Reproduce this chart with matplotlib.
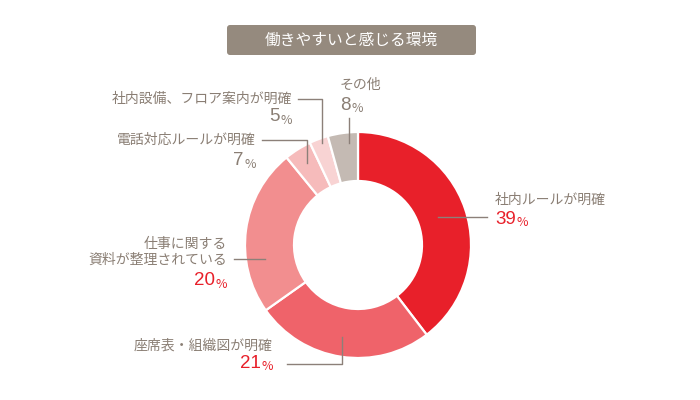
import matplotlib.pyplot as plt
from matplotlib.patches import FancyBboxPatch

plt.rcParams['font.family'] = ['Noto Sans CJK JP', 'DejaVu Sans']

# data (wedge sizes as drawn, printed percentages as labelled)
title = '働きやすいと感じる環境'
categories = ['社内ルールが明確', '座席表・組織図が明確', '仕事に関する\n資料が整理されている',
              '電話対応ルールが明確', '社内設備、フロア案内が明確', 'その他']
shares = [39.6, 25.6, 23.9, 3.9, 2.7, 4.3]
pct_labels = ['39', '21', '20', '7', '5', '8']
colors = ['#e8202a', '#ef636a', '#f28e8f', '#f6bbbb', '#f8d3d3', '#c4bab3']
pct_colors = ['#e8202a', '#e8202a', '#e8202a', '#8a7e74', '#8a7e74', '#8a7e74']

TXT = '#8a7e74'
LINE = '#8c8079'
H = 400
NUMFONT = ['Liberation Sans', 'DejaVu Sans']

fig = plt.figure(figsize=(7, 4), dpi=100)
ax = fig.add_axes([0, 0, 1, 1])

ax.pie(shares, colors=colors, radius=113, center=(358, H - 245), startangle=90,
       counterclock=False, wedgeprops=dict(width=49, edgecolor='white', linewidth=1.6))

# title box
ax.add_patch(FancyBboxPatch((227, H - 55), 249, 30, boxstyle='round,pad=0,rounding_size=3',
                            fc='#958a7e', ec='none'))
ax.text(351, H - 40, title, color='white', fontsize=11.3, ha='center', va='center')

# label layout (pixel coords): text x, align, name y, pct y, leader path
layout = [
    (495, 'left', 200, 217, [(438, 217), (487, 217)]),
    (273, 'right', 346, 364, [(342, 337), (342, 364), (287, 364)]),
    (227, 'right', 252, 281, [(265, 259), (234, 259)]),
    (256, 'right', 140, 161, [(307, 163), (307, 140), (262, 140)]),
    (292, 'right', 99, 117, [(322, 143), (322, 99), (298, 99)]),
    (340, 'left', 85, 103, [(349, 143), (349, 118)]),
]

for name, pct, pc, (x, ha, ny, py, path) in zip(categories, pct_labels, pct_colors, layout):
    ax.text(x, H - ny, name, color=TXT, fontsize=10, ha=ha, va='center',
            linespacing=1.15, multialignment=ha)
    if ha == 'right':
        sign = ax.text(x, H - py - 6.5, '%', color=pc, fontsize=9, ha='right', va='baseline')
        ax.annotate(pct, xy=(0, 0), xycoords=sign, color=pc, fontsize=13.5, family=NUMFONT,
                    ha='right', va='bottom', xytext=(-0.5, 1), textcoords='offset points')
    else:
        num = ax.text(x, H - py - 6.5, pct, color=pc, fontsize=13.5, family=NUMFONT,
                      ha='left', va='baseline')
        ax.annotate('%', xy=(1, 0), xycoords=num, color=pc, fontsize=9,
                    ha='left', va='bottom', xytext=(0.5, -1), textcoords='offset points')
    xs = [p[0] for p in path]
    ys = [H - p[1] for p in path]
    ax.plot(xs, ys, color=LINE, lw=1)

ax.set_xlim(0, 700)
ax.set_ylim(0, H)
ax.set_aspect('equal')
ax.axis('off')

fig.savefig('out.png', dpi=100)
